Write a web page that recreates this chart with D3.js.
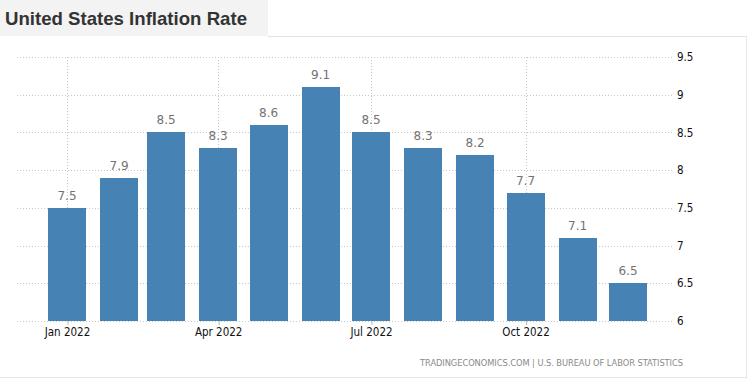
<!DOCTYPE html>
<html>
<head>
<meta charset="utf-8">
<script src="https://cdn.jsdelivr.net/npm/d3@7"></script>
<style>
  html, body { margin: 0; padding: 0; background: #fff; }
  svg { display: block; }
</style>
</head>
<body>
<svg id="chart" width="747" height="381"></svg>
<script>
const months = ["2022-01","2022-02","2022-03","2022-04","2022-05","2022-06","2022-07","2022-08","2022-09","2022-10","2022-11","2022-12"];
const values = [7.5, 7.9, 8.5, 8.3, 8.6, 9.1, 8.5, 8.3, 8.2, 7.7, 7.1, 6.5];
const yTicks = [6, 6.5, 7, 7.5, 8, 8.5, 9, 9.5];
const xTickMonths = ["2022-01","2022-04","2022-07","2022-10"];
const xTickLabels = ["Jan 2022","Apr 2022","Jul 2022","Oct 2022"];
const title = "United States Inflation Rate";
const source = "TRADINGECONOMICS.COM | U.S. BUREAU OF LABOR STATISTICS";

const parse = d3.timeParse("%Y-%m");
const svg = d3.select("#chart");

// frame
svg.append("rect").attr("x", 0).attr("y", 0).attr("width", 268).attr("height", 36).attr("fill", "#f3f3f3");
svg.append("line").attr("x1", 268).attr("x2", 747).attr("y1", 36.5).attr("y2", 36.5).attr("stroke", "#e2e2e2");
svg.append("line").attr("x1", 746.5).attr("x2", 746.5).attr("y1", 36).attr("y2", 378).attr("stroke", "#e6e6e6");
svg.append("line").attr("x1", 0).attr("x2", 747).attr("y1", 377.5).attr("y2", 377.5).attr("stroke", "#e6e6e6");

svg.append("text").attr("x", 5).attr("y", 25)
  .attr("font-family", "Liberation Sans, Arial, sans-serif").attr("font-weight", "bold")
  .attr("font-size", 19).attr("fill", "#333").attr("textLength", 242).attr("lengthAdjust", "spacingAndGlyphs")
  .text(title);

const gridLeft = 17, gridRight = 673;
const y = d3.scaleLinear().domain([6, 9.5]).range([321, 57]);
const x = d3.scaleTime().domain([parse("2022-01"), parse("2022-12")]).range([67, 628]);
const barW = 38;

// horizontal grid
svg.append("g").selectAll("line").data(yTicks).join("line")
  .attr("x1", gridLeft).attr("x2", gridRight)
  .attr("y1", d => Math.round(y(d)) + 0.5).attr("y2", d => Math.round(y(d)) + 0.5)
  .attr("stroke", "#c8c8c8").attr("stroke-dasharray", "1,2");

// vertical grid at x ticks
svg.append("g").selectAll("line").data(xTickMonths).join("line")
  .attr("x1", d => Math.round(x(parse(d))) + 0.5).attr("x2", d => Math.round(x(parse(d))) + 0.5)
  .attr("y1", y(9.5)).attr("y2", y(6))
  .attr("stroke", "#c8c8c8").attr("stroke-dasharray", "1,2");

// bars
svg.append("g").selectAll("rect").data(values).join("rect")
  .attr("x", (d, i) => Math.round(x(parse(months[i])) - barW / 2))
  .attr("y", d => Math.round(y(d)))
  .attr("width", barW)
  .attr("height", d => Math.round(y(6)) - Math.round(y(d)))
  .attr("fill", "#4682b4");

// value labels
svg.append("g").selectAll("text").data(values).join("text")
  .attr("x", (d, i) => x(parse(months[i])))
  .attr("y", d => y(d) - 8)
  .attr("text-anchor", "middle")
  .attr("font-family", "DejaVu Sans, sans-serif").attr("font-size", 12)
  .attr("fill", "#737373")
  .text(d => d3.format(".1f")(d));

// y axis labels (right)
const yAxis = d3.axisRight(y).tickValues(yTicks).tickSize(0).tickPadding(0).tickFormat(d3.format("~g"));
const gy = svg.append("g").attr("transform", `translate(677,0)`).call(yAxis);
gy.select(".domain").remove();
gy.selectAll("text").attr("font-family", "DejaVu Sans Condensed, DejaVu Sans, sans-serif")
  .attr("font-size", 11.5).attr("fill", "#111");

// x axis
const xAxis = d3.axisBottom(x).tickValues(xTickMonths.map(parse)).tickSize(4).tickPadding(3)
  .tickFormat((d, i) => xTickLabels[i]);
const gx = svg.append("g").attr("transform", `translate(0,321)`).call(xAxis);
gx.select(".domain").remove();
gx.selectAll(".tick line").attr("stroke", "#bbb").attr("transform", "translate(0.5,0)");
gx.selectAll("text").attr("font-family", "DejaVu Sans Condensed, DejaVu Sans, sans-serif")
  .attr("font-size", 11.5).attr("fill", "#111");

// source
svg.append("text").attr("x", 683).attr("y", 366).attr("text-anchor", "end")
  .attr("font-family", "DejaVu Sans, sans-serif").attr("font-size", 8.3)
  .attr("fill", "#8a8a8a").attr("textLength", 263).attr("lengthAdjust", "spacing")
  .text(source);
</script>
</body>
</html>
